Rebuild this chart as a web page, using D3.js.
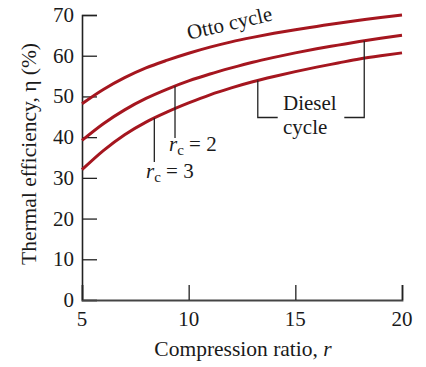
<!DOCTYPE html>
<html><head><meta charset="utf-8">
<script src="https://cdn.jsdelivr.net/npm/d3@7"></script>
<style>body{margin:0;background:#fff}svg{display:block}text{font-family:"Liberation Serif","Times New Roman",serif;fill:#1a1a1a}</style>
</head><body>
<svg id="c" width="426" height="367"></svg>
<script>
const ratios = [5,6,7,8,9,10,11,12,13,14,15,16,17,18,19,20];
const otto   = [48.2,51.7,54.6,57.0,58.9,60.6,62.1,63.4,64.5,65.5,66.4,67.2,68.0,68.7,69.4,70.0];
const dieselRc2 = [39.2,43.3,46.7,49.5,51.8,53.8,55.5,57.0,58.4,59.6,60.7,61.7,62.6,63.5,64.3,65.0];
const dieselRc3 = [32.0,36.7,40.6,43.7,46.2,48.4,50.4,52.1,53.6,54.9,56.1,57.2,58.2,59.2,60.0,60.7];
const xTicks = [5,10,15,20];
const yTicks = [0,10,20,30,40,50,60,70];
const xTitle = "Compression ratio, ";
const yTitle = "Thermal efficiency, η (%)";

const svg = d3.select("#c");
const x = d3.scaleLinear().domain([5,20]).range([82,402]);
const y = d3.scaleLinear().domain([0,70]).range([300,15]);
const red = "#a5161f";

// axes
const yAxis = d3.axisRight(y).tickValues(yTicks).tickSize(15).tickFormat("");
const gy = svg.append("g").attr("transform","translate(82,0)").call(yAxis);
gy.select(".domain").attr("stroke","#222").attr("stroke-width",1.6);
gy.selectAll(".tick line").attr("stroke","#222").attr("stroke-width",1.3);
const xAxis = d3.axisTop(x).tickValues(xTicks).tickSize(15).tickFormat("");
const gx = svg.append("g").attr("transform","translate(0,300)").call(xAxis);
gx.select(".domain").attr("stroke","#444").attr("stroke-width",1.8);
gx.selectAll(".tick line").attr("stroke","#222").attr("stroke-width",1.3);

svg.selectAll(".ylab").data(yTicks).join("text")
  .attr("x",74).attr("y",d=>y(d)+7).attr("text-anchor","end")
  .attr("font-size",21).text(d=>d);
svg.selectAll(".xlab").data(xTicks).join("text")
  .attr("x",d=>x(d)).attr("y",326).attr("text-anchor","middle")
  .attr("font-size",21).text(d=>d);

const xt = svg.append("text").attr("x",243).attr("y",356).attr("text-anchor","middle").attr("font-size",21.5);
xt.append("tspan").text(xTitle);
xt.append("tspan").attr("font-style","italic").text("r");
svg.append("text").attr("transform","translate(36,154) rotate(-90)").attr("text-anchor","middle")
  .attr("font-size",21.5).text(yTitle);

// curves
const line = d3.line().x((d,i)=>x(ratios[i])).y(d=>y(d)).curve(d3.curveMonotoneX);
[otto,dieselRc2,dieselRc3].forEach(s=>{
  svg.append("path").attr("d",line(s)).attr("fill","none").attr("stroke",red).attr("stroke-width",3);
});

function valAt(series, r){ const i=Math.min(Math.floor(r)-5,ratios.length-2); const t=(r-ratios[i]); return series[i]+(series[i+1]-series[i])*t; }

const lead = {stroke:"#222","stroke-width":1.3,fill:"none"};
function path(pts){ const p=svg.append("path").attr("d",d3.line()(pts)); Object.entries(lead).forEach(([k,v])=>p.attr(k,v)); }

// rc leaders
const r2 = 9.36, r3 = 8.39;
path([[x(r2),y(valAt(dieselRc2,r2))],[x(r2),138]]);
path([[x(r3),y(valAt(dieselRc3,r3))],[x(r3),162]]);
function rcLabel(px,py,v){
  const t = svg.append("text").attr("x",px).attr("y",py).attr("font-size",21);
  t.append("tspan").attr("font-style","italic").text("r");
  t.append("tspan").attr("font-size",15).attr("dy",4).text("c");
  t.append("tspan").attr("dy",-4).text(" = "+v);
}
rcLabel(169,151,2);
rcLabel(146,178,3);

// Diesel bracket
const dl = 13.24, dr = 18.23;
path([[x(dl),y(valAt(dieselRc3,dl))],[x(dl),117.5],[277.7,117.5]]);
path([[344.3,117.5],[x(dr),117.5],[x(dr),y(valAt(dieselRc2,dr))]]);
svg.append("text").attr("x",283).attr("y",110).attr("font-size",21).text("Diesel");
svg.append("text").attr("x",283).attr("y",134).attr("font-size",21).text("cycle");

// Otto label
svg.append("text").attr("transform","translate(231,30) rotate(-13)").attr("text-anchor","middle")
  .attr("font-size",21).text("Otto cycle");
</script>
</body></html>
